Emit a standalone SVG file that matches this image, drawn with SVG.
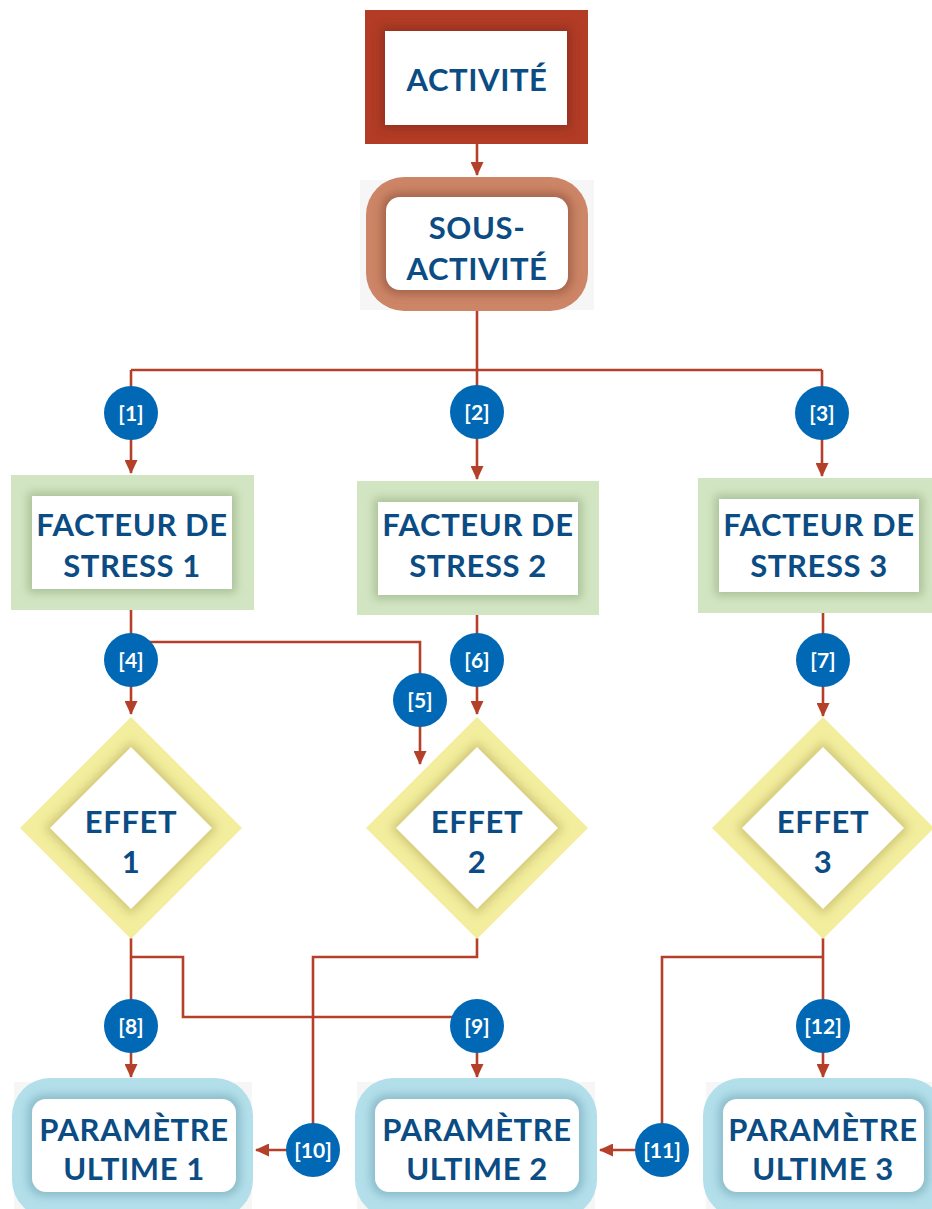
<svg xmlns="http://www.w3.org/2000/svg" width="932" height="1209" viewBox="0 0 932 1209">
<defs>
<style>
.t{font-family:"Lato","Liberation Sans",sans-serif;font-weight:700;font-size:31px;letter-spacing:0.6px;fill:#0b4c84;text-anchor:middle}
.b{font-family:"Lato","Liberation Sans",sans-serif;font-weight:700;font-size:21px;fill:#ffffff;text-anchor:middle}
.c{fill:none;stroke:#b5402a;stroke-width:2.6}
.badge{fill:#0068b4}
.w{fill:#ffffff}
.sh{opacity:0.8}
</style>
<filter id="bl" x="-20%" y="-20%" width="140%" height="140%"><feGaussianBlur stdDeviation="5"/></filter>
<marker id="ar" viewBox="0 0 14 13" refX="13" refY="6.5" markerWidth="14" markerHeight="13" markerUnits="userSpaceOnUse" orient="auto"><path d="M0,0 L14,6.5 L0,13 Z" fill="#b5402a"/></marker>
</defs>
<rect width="932" height="1209" fill="#ffffff"/>

<g id="connectors">
<path class="c" d="M477,144 V175" marker-end="url(#ar)"/>
<path class="c" d="M477,311 V370 M131,370 H822"/>
<path class="c" d="M131,370 V473" marker-end="url(#ar)"/>
<path class="c" d="M477,370 V479" marker-end="url(#ar)"/>
<path class="c" d="M822,370 V476" marker-end="url(#ar)"/>
<path class="c" d="M131,610 V714" marker-end="url(#ar)"/>
<path class="c" d="M131,642 H420 V764" marker-end="url(#ar)"/>
<path class="c" d="M477,615 V714" marker-end="url(#ar)"/>
<path class="c" d="M823,613 V716" marker-end="url(#ar)"/>
<path class="c" d="M131,938 V1077" marker-end="url(#ar)"/>
<path class="c" d="M131,957 H183 V1017 H477 V1077" marker-end="url(#ar)"/>
<path class="c" d="M477,938 V957 H313 V1150 H256" marker-end="url(#ar)"/>
<path class="c" d="M823,938 V1077" marker-end="url(#ar)"/>
<path class="c" d="M823,957 H662 V1150 H600" marker-end="url(#ar)"/>
</g>

<g id="activite">
<rect x="365" y="10" width="223" height="134" fill="#b23c26"/>
<rect class="sh" x="381" y="27" width="190" height="102" fill="#8f2e1c" filter="url(#bl)"/>
<rect x="385" y="31" width="182" height="94" class="w"/>
<text class="t" x="477" y="91">ACTIVITÉ</text>
</g>

<g id="sous-activite">
<rect x="360" y="180" width="234" height="130" fill="#f6f6f6"/>
<rect x="366" y="177" width="222" height="134" rx="38" fill="#cc8566"/>
<rect class="sh" x="382" y="193" width="190" height="101" rx="16" fill="#9a5a44" filter="url(#bl)"/>
<rect x="386" y="197" width="182" height="93" rx="14" class="w"/>
<text class="t" x="477" y="239">SOUS-</text>
<text class="t" x="477" y="280">ACTIVITÉ</text>
</g>

<g id="stress1">
<rect x="11" y="475" width="243" height="135" fill="#d2e5c2"/>
<rect class="sh" x="28" y="492" width="208" height="101" fill="#9fb88c" filter="url(#bl)"/>
<rect x="32" y="496" width="200" height="93" class="w"/>
<text class="t" x="132" y="536">FACTEUR DE</text>
<text class="t" x="132" y="577">STRESS 1</text>
</g>
<g id="stress2">
<rect x="357" y="481" width="242" height="134" fill="#d2e5c2"/>
<rect class="sh" x="374" y="498" width="208" height="101" fill="#9fb88c" filter="url(#bl)"/>
<rect x="378" y="502" width="200" height="93" class="w"/>
<text class="t" x="478" y="536">FACTEUR DE</text>
<text class="t" x="478" y="577">STRESS 2</text>
</g>
<g id="stress3">
<rect x="698" y="478" width="240" height="135" fill="#d2e5c2"/>
<rect class="sh" x="715" y="495" width="208" height="101" fill="#9fb88c" filter="url(#bl)"/>
<rect x="719" y="499" width="200" height="93" class="w"/>
<text class="t" x="819" y="536">FACTEUR DE</text>
<text class="t" x="819" y="577">STRESS 3</text>
</g>

<g id="effet1">
<polygon points="131,717 242,828 131,939 20,828" fill="#f3ee9e"/>
<polygon class="sh" points="131,741 218,828 131,915 44,828" fill="#c9c070" filter="url(#bl)"/>
<polygon points="131,747 212,828 131,909 50,828" class="w"/>
<text class="t" x="131" y="833">EFFET</text>
<text class="t" x="131" y="873">1</text>
</g>
<g id="effet2">
<polygon points="477,717 588,828 477,939 366,828" fill="#f3ee9e"/>
<polygon class="sh" points="477,741 564,828 477,915 390,828" fill="#c9c070" filter="url(#bl)"/>
<polygon points="477,747 558,828 477,909 396,828" class="w"/>
<text class="t" x="477" y="833">EFFET</text>
<text class="t" x="477" y="873">2</text>
</g>
<g id="effet3">
<polygon points="823,717 934,828 823,939 712,828" fill="#f3ee9e"/>
<polygon class="sh" points="823,741 910,828 823,915 736,828" fill="#c9c070" filter="url(#bl)"/>
<polygon points="823,747 904,828 823,909 742,828" class="w"/>
<text class="t" x="823" y="833">EFFET</text>
<text class="t" x="823" y="873">3</text>
</g>

<g id="param1">
<rect x="14" y="1082" width="238" height="130" fill="#f6f6f6"/>
<rect x="12" y="1078" width="241" height="140" rx="38" fill="#b2dfea"/>
<rect class="sh" x="28" y="1095" width="212" height="101" rx="16" fill="#7fb0bf" filter="url(#bl)"/>
<rect x="32" y="1099" width="204" height="93" rx="14" class="w"/>
<text class="t" x="134" y="1141">PARAMÈTRE</text>
<text class="t" x="134" y="1180">ULTIME 1</text>
</g>
<g id="param2">
<rect x="357" y="1082" width="238" height="130" fill="#f6f6f6"/>
<rect x="355" y="1078" width="242" height="140" rx="38" fill="#b2dfea"/>
<rect class="sh" x="371" y="1095" width="212" height="101" rx="16" fill="#7fb0bf" filter="url(#bl)"/>
<rect x="375" y="1099" width="204" height="93" rx="14" class="w"/>
<text class="t" x="477" y="1141">PARAMÈTRE</text>
<text class="t" x="477" y="1180">ULTIME 2</text>
</g>
<g id="param3">
<rect x="706" y="1082" width="230" height="130" fill="#f6f6f6"/>
<rect x="703" y="1078" width="242" height="140" rx="38" fill="#b2dfea"/>
<rect class="sh" x="719" y="1095" width="209" height="101" rx="16" fill="#7fb0bf" filter="url(#bl)"/>
<rect x="723" y="1099" width="201" height="93" rx="14" class="w"/>
<text class="t" x="823" y="1141">PARAMÈTRE</text>
<text class="t" x="823" y="1180">ULTIME 3</text>
</g>

<g id="badges">
<circle class="badge" cx="131" cy="413" r="27"/><text class="b" x="131" y="421">[1]</text>
<circle class="badge" cx="477" cy="412" r="27"/><text class="b" x="477" y="420">[2]</text>
<circle class="badge" cx="822" cy="413" r="27"/><text class="b" x="822" y="421">[3]</text>
<circle class="badge" cx="131" cy="660" r="27"/><text class="b" x="131" y="668">[4]</text>
<circle class="badge" cx="420" cy="700" r="27"/><text class="b" x="420" y="708">[5]</text>
<circle class="badge" cx="477" cy="660" r="27"/><text class="b" x="477" y="668">[6]</text>
<circle class="badge" cx="823" cy="660" r="27"/><text class="b" x="823" y="668">[7]</text>
<circle class="badge" cx="131" cy="1026" r="27"/><text class="b" x="131" y="1034">[8]</text>
<circle class="badge" cx="477" cy="1026" r="27"/><text class="b" x="477" y="1034">[9]</text>
<circle class="badge" cx="313" cy="1150" r="27"/><text class="b" x="313" y="1158">[10]</text>
<circle class="badge" cx="662" cy="1150" r="27"/><text class="b" x="662" y="1158">[11]</text>
<circle class="badge" cx="823" cy="1026" r="27"/><text class="b" x="823" y="1034">[12]</text>
</g>
</svg>
